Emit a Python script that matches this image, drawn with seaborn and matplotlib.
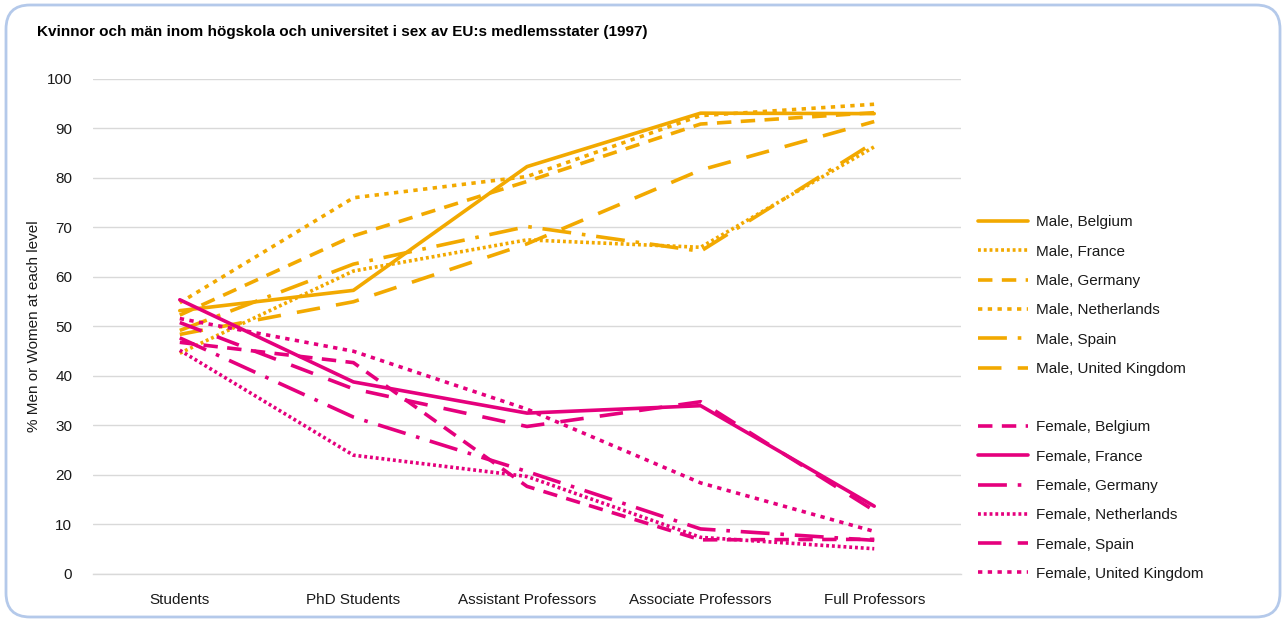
"""
Kvinnor och män inom högskola och universitet i sex av EU:s medlemsstater (1997)
Line chart of the share of men / women at each academic level.
"""
import pandas as pd
import matplotlib
matplotlib.use("Agg")
import matplotlib.pyplot as plt
import seaborn as sns
from matplotlib.lines import Line2D
from matplotlib.patches import FancyBboxPatch
from matplotlib.transforms import IdentityTransform

sns.set_style("white")
plt.rcParams["font.family"] = ["Liberation Sans", "DejaVu Sans"]

# ---------------------------------------------------------
# DATA
# ---------------------------------------------------------
levels = ["Students", "PhD Students", "Assistant Professors",
          "Associate Professors", "Full Professors"]
countries = ["Belgium", "France", "Germany", "Netherlands", "Spain", "United Kingdom"]

male_belgium = [53.2, 57.3, 82.3, 93.1, 93.0]
male_france = [44.6, 61.2, 67.5, 66.0, 86.3]
male_germany = [52.3, 68.3, 79.3, 90.9, 93.2]
male_netherlands = [54.8, 76.0, 80.3, 92.6, 94.9]
male_spain = [49.2, 62.6, 70.2, 65.2, 87.2]
male_uk = [48.4, 55.0, 66.7, 81.6, 91.4]

female_belgium = [46.8, 42.7, 17.7, 6.9, 7.0]
female_france = [55.4, 38.8, 32.5, 34.0, 13.7]
female_germany = [47.7, 31.7, 20.7, 9.1, 6.8]
female_netherlands = [45.2, 24.0, 19.7, 7.4, 5.1]
female_spain = [50.8, 37.4, 29.8, 34.8, 12.8]
female_uk = [51.6, 45.0, 33.3, 18.4, 8.6]

male_values = [male_belgium, male_france, male_germany,
               male_netherlands, male_spain, male_uk]
female_values = [female_belgium, female_france, female_germany,
                 female_netherlands, female_spain, female_uk]

# ---------------------------------------------------------
# STYLES
# ---------------------------------------------------------
ORANGE = "#F2A900"
PINK = "#E5007D"

SOLID = ""
ROUND_DOT = (0.8, 0.8)
DASH = (4, 2.6)
SQUARE_DOT = (1.2, 1.5)
LONG_DASH_DOT = (8, 3, 1, 3)
LONG_DASH = (6.5, 4.5)

male_dashes = [SOLID, ROUND_DOT, DASH, SQUARE_DOT, LONG_DASH_DOT, LONG_DASH]
female_dashes = [DASH, SOLID, LONG_DASH_DOT, ROUND_DOT, LONG_DASH, SQUARE_DOT]

rows = []
palette, dashes = {}, {}
for sex, vals, color, styles in [("Male", male_values, ORANGE, male_dashes),
                                 ("Female", female_values, PINK, female_dashes)]:
    for country, series, dash in zip(countries, vals, styles):
        name = f"{sex}, {country}"
        palette[name] = color
        dashes[name] = dash
        for i, v in enumerate(series):
            rows.append({"series": name, "pos": i, "value": v})
df = pd.DataFrame(rows)
order = list(palette.keys())

# ---------------------------------------------------------
# PLOT
# ---------------------------------------------------------
fig = plt.figure(figsize=(12.86, 6.22), dpi=100)
ax = fig.add_axes([0.0723, 0.0772, 0.675, 0.7958])

LW = 2.6
sns.lineplot(data=df, x="pos", y="value", hue="series", style="series",
             hue_order=order, style_order=order, palette=palette, dashes=dashes,
             linewidth=LW, legend=False, ax=ax, sort=False)

ax.set_xlim(-0.5, len(levels) - 0.5)
ax.set_ylim(0, 100)
ax.set_yticks(range(0, 101, 10))
ax.set_xticks(range(len(levels)))
ax.set_xticklabels(levels)
ax.set_xticks([i - 0.5 for i in range(len(levels) + 1)], minor=True)
ax.tick_params(axis="x", which="major", length=0, pad=14, labelsize=11, labelcolor="#1a1a1a")
ax.tick_params(axis="x", which="minor", length=6, color="#d9d9d9", width=1)
ax.tick_params(axis="y", length=0, pad=15, labelsize=11, labelcolor="#1a1a1a")
ax.grid(axis="y", color="#d9d9d9", linewidth=1)
ax.set_axisbelow(True)
for side in ["left", "right", "top"]:
    ax.spines[side].set_visible(False)
ax.spines["bottom"].set_color("#d9d9d9")
ax.spines["bottom"].set_linewidth(1)
ax.set_xlabel("")
ax.set_ylabel("% Men or Women at each level", fontsize=11, color="#1a1a1a", labelpad=4)

# legend with an empty row between men and women
handles = []
for name in order:
    if name.startswith("Female") and not any(h.get_label() == " " for h in handles):
        handles.append(Line2D([], [], color="none", label=" "))
    d = dashes[name]
    h = Line2D([], [], color=palette[name], linewidth=LW, label=name)
    if d:
        h.set_dashes(d)
    handles.append(h)
fig.legend(handles=handles, loc="upper left", bbox_to_anchor=(0.7605, 0.6536),
           frameon=False, fontsize=11, handlelength=3.3, handletextpad=0.5,
           labelspacing=1.0, borderpad=0, borderaxespad=0, labelcolor="#1a1a1a")

fig.text(37 / 1286, 1 - 32 / 622, "Kvinnor och män inom högskola och universitet i sex av EU:s medlemsstater (1997)",
         fontsize=11, fontweight="bold", va="center", ha="left", color="black")

border = FancyBboxPatch((6, 5), 1274, 612, boxstyle="round,pad=0,rounding_size=24",
                        transform=IdentityTransform(), facecolor="none",
                        edgecolor="#b4c9ea", linewidth=2)
fig.patches.append(border)

fig.savefig("out.png", dpi=100)
plt.close(fig)
